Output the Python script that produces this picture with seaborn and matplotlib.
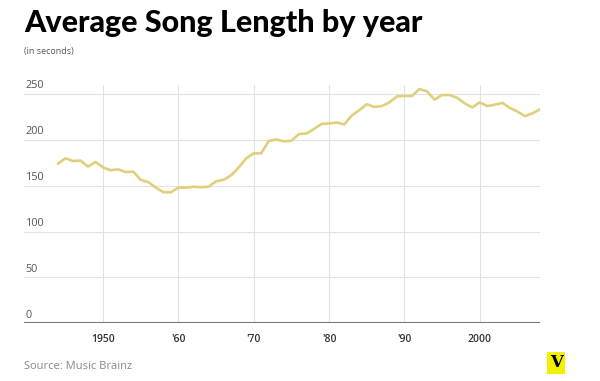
import seaborn as sns
import pandas as pd
import numpy as np
import matplotlib.pyplot as plt
import matplotlib.transforms as mtransforms

# veriler
years = list(range(1944, 2009))
seconds = [174, 180, 177, 177.5, 171, 176, 170, 167, 168, 165, 165.5, 156.5, 154, 148, 143, 143,
           148, 148, 149, 148.5, 149, 155, 156.5, 161.5, 170, 180, 185.5, 185.5, 199, 200.5, 198.5, 199,
           206.5, 207, 212, 217.5, 218, 219, 217, 226.5, 232.5, 239, 236, 237, 241, 247.5,
           248, 248, 255.5, 253, 244, 249, 249, 246, 240, 235.5,
           241, 237, 238.5, 240.5, 235, 231, 226, 229, 233.5]
x_ticks = [1950, 1960, 1970, 1980, 1990, 2000]
x_labels = ["1950", "'60", "'70", "'80", "'90", "2000"]
y_ticks = [0, 50, 100, 150, 200, 250]

df = pd.DataFrame({"year": years, "seconds": seconds})

sns.set_style("white")
plt.rcParams['font.family'] = ['Open Sans', 'DejaVu Sans']

fig = plt.figure(figsize=(6, 3.81), dpi=100)
ax = fig.add_axes([0.04, 0.1514, 0.86, 0.6256])

sns.lineplot(data=df, x="year", y="seconds", color="#e0d07c", linewidth=1.9, ax=ax)

ax.set_xlim(1939.5, 2008)
ax.set_ylim(0, 260)

# grid
for yv in y_ticks[1:]:
    ax.axhline(yv, color="#e2e2e2", linewidth=0.8, zorder=0)
for xv in x_ticks:
    ax.axvline(xv, color="#e2e2e2", linewidth=0.8, zorder=0)
ax.axhline(0, color="#777777", linewidth=1.5, zorder=3)

for s in ax.spines.values():
    s.set_visible(False)
ax.set_xticks([])
ax.set_yticks([])
ax.set_xlabel("")
ax.set_ylabel("")

trans = mtransforms.blended_transform_factory(ax.transAxes, ax.transData)
for yv in y_ticks:
    ax.text(0.003, yv + 3, str(yv), transform=trans, ha="left", va="bottom",
            fontsize=7.8, color="#555555")

trans2 = mtransforms.blended_transform_factory(ax.transData, ax.transAxes)
for xv, lab in zip(x_ticks, x_labels):
    ax.text(xv, -0.068, lab, transform=trans2, ha="center", va="center",
            fontsize=7.5, color="#333333", fontweight="semibold")

fig.text(0.04, 0.94, "Average Song Length by year", ha="left", va="center",
         fontsize=22, fontweight="black", family=["Lato", "DejaVu Sans"], color="black")
fig.text(0.04, 0.866, "(in seconds)", ha="left", va="center", fontsize=6.5, color="#555555")
fig.text(0.04, 0.037, "Source: Music Brainz", ha="left", va="center", fontsize=8, color="#888888")
fig.text(0.927, 0.048, "V", ha="center", va="center", fontsize=12, fontweight="bold",
         family=["DejaVu Serif"], color="black",
         bbox=dict(boxstyle="square,pad=0.15", facecolor="#f2f200", edgecolor="none"))

plt.savefig("out.png", dpi=100)
